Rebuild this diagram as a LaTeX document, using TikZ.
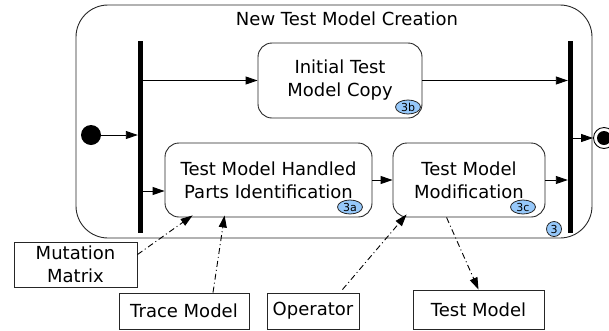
\documentclass[tikz,border=0pt]{standalone}
\usepackage{fontspec}
\setmainfont{DejaVu Sans}
\usepackage{tikz}
\usetikzlibrary{arrows.meta,positioning,shapes.geometric}
\definecolor{badgeblue}{RGB}{150,200,250}

\begin{document}
\begin{tikzpicture}[
x=1pt, y=-1pt,
>={Triangle[length=12pt,width=8pt]},
font=\fontsize{18}{23}\selectfont,
activity/.style={
rectangle,
rounded corners=14pt,
line width=0.9pt,
draw=black!85,
align=center,
inner sep=0pt
},
artifact/.style={
rectangle,
line width=0.9pt,
draw=black!85,
align=center,
inner sep=0pt
},
bar/.style={
rectangle,
fill=black,
draw=none,
minimum width=5pt,
minimum height=192pt,
inner sep=0pt
},
badge/.style={
ellipse,
draw=black!85,
line width=0.8pt,
fill=badgeblue,
inner sep=0pt,
minimum width=25pt,
minimum height=14pt,
font=\fontsize{11}{11}\selectfont
},
flow/.style={
->,
line width=0.9pt
},
usage/.style={
->,
line width=0.9pt,
dash pattern=on 6pt off 3pt on 1pt off 3pt
}]

\useasboundingbox (0,0) rectangle (609,330);

% composite activity
\node [activity, rounded corners=32pt, minimum width=516pt, minimum height=233pt] (frame) at (334,121.5) {};
\node (title) at (347,19) {New Test Model Creation};

\node [bar] (fork) at (140.5,137) {};
\node [bar] (join) at (570.5,137) {};

\node [circle, fill=black, minimum size=20pt, inner sep=0pt] (start) at (91,135) {};
\node [circle, draw=black, line width=0.9pt, minimum size=21pt, inner sep=0pt] (stop) at (604,138) {};
\node [circle, fill=black, minimum size=14pt, inner sep=0pt] (stopdot) at (stop) {};

\node [activity, minimum width=164pt, minimum height=75pt] (copy) at (340,80.5) {Initial Test\\Model Copy};
\node [activity, minimum width=207pt, minimum height=74pt] (ident) at (268.5,180) {Test Model Handled\\Parts Identification};
\node [activity, minimum width=152pt, minimum height=74pt] (modif) at (469,180) {Test Model\\Modification};

\node [badge] (b3b) at (408,107) {3b};
\node [badge] (b3a) at (350,207) {3a};
\node [badge] (b3c) at (523,207) {3c};
\node [badge, circle, minimum width=15pt] (b3) at (554,229) {3};

% artifacts
\node [artifact, minimum width=123pt, minimum height=45pt] (mutmat) at (75.5,264.5) {Mutation\\Matrix};
\node [artifact, minimum width=130pt, minimum height=36pt] (trace) at (184,311) {Trace Model};
\node [artifact, minimum width=92pt, minimum height=36pt] (oper) at (313,311) {Operator};
\node [artifact, minimum width=131pt, minimum height=39pt] (testmod) at (478.5,309.5) {Test Model};

\draw[flow] (start) -- (start -| fork.west);
\draw[flow] (fork.east |- copy) -- (copy);
\draw[flow] (copy) -- (copy -| join.west);
\draw[flow] ([yshift=-11pt]fork.east |- ident) -- ([yshift=-11pt]ident.west);
\draw[flow] (ident.east |- modif) -- (modif);
\draw[flow] (modif) -- (modif -| join.west);
\draw[flow] (join.east |- stop) -- (stop);

\draw[usage] ([yshift=-13pt]mutmat.north east) -- ([xshift=28pt,yshift=2pt]ident.south west);
\draw[usage] ([xshift=29pt]trace.north) -- ([xshift=60pt,yshift=2pt]ident.south west);
\draw[usage] ([xshift=-17pt,yshift=3pt]oper.north east) -- ([xshift=14pt,yshift=3pt]modif.south west);
\draw[usage] ([xshift=54pt]modif.south west) -- (testmod.north);

\end{tikzpicture}
\end{document}
